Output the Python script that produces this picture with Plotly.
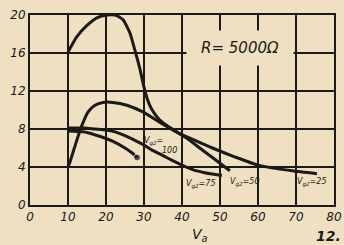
import plotly.graph_objects as go

# Anode voltage Va (x) vs gain (y), R = 5000 ohm, for several screen voltages Vg2
va_g2_50 = [10, 12.3, 15, 17.6, 20.3, 22.4, 24.5, 26.3, 27.6, 29, 30, 31, 32, 34, 37, 41, 45, 48, 52.6]
gain_g2_50 = [16.1, 17.7, 18.9, 19.7, 20, 20, 19.5, 18.1, 16.3, 14.2, 12.4, 11.0, 10.1, 9.0, 8.1, 7.1, 5.9, 5.0, 3.6]

va_g2_25 = [10, 10.5, 13.2, 15.3, 17.1, 19.2, 21.8, 25.5, 29.7, 34.2, 39, 44, 48, 54, 60, 69, 75.5]
gain_g2_25 = [4.0, 4.5, 7.9, 9.8, 10.5, 10.8, 10.8, 10.5, 9.8, 8.7, 7.6, 6.7, 6.0, 5.05, 4.2, 3.6, 3.3]

va_g2_75 = [10, 14.5, 17, 20, 22.4, 25, 27.6, 30, 32, 35, 37.4, 40, 43, 46, 50.5]
gain_g2_75 = [8.1, 8.1, 8.0, 7.9, 7.7, 7.3, 6.8, 6.3, 5.8, 5.2, 4.7, 4.2, 3.7, 3.4, 3.1]

va_g2_100 = [10, 14, 17, 20, 22.4, 25, 26.8, 28.2]
gain_g2_100 = [7.8, 7.7, 7.4, 7.0, 6.6, 6.0, 5.5, 5.0]

x_ticks = [0, 10, 20, 30, 40, 50, 60, 70, 80]
y_ticks = [0, 4, 8, 12, 16, 20]

BG = "#EFE0C2"
INK = "#1b1a17"
FONT = "DejaVu Sans"

fig = go.Figure()
for xs, ys in [(va_g2_50, gain_g2_50), (va_g2_25, gain_g2_25),
               (va_g2_75, gain_g2_75)]:
    fig.add_trace(go.Scatter(x=xs, y=ys, mode="lines",
                             line=dict(color=INK, width=3, shape="spline", smoothing=0.5),
                             hoverinfo="skip", showlegend=False))
fig.add_trace(go.Scatter(x=va_g2_100, y=gain_g2_100, mode="lines+markers",
                         line=dict(color=INK, width=3, shape="spline", smoothing=0.5),
                         marker=dict(color=INK, size=[0] * (len(va_g2_100) - 1) + [7]),
                         hoverinfo="skip", showlegend=False))

lab = dict(family=FONT, size=8, color=INK, style="italic")
fig.add_annotation(x=32.4, y=6.7, text="V<sub>g2</sub>=", showarrow=False, font=lab)
fig.add_annotation(x=36.8, y=5.7, text="100", showarrow=False, font=lab)
fig.add_annotation(x=45, y=2.2, text="V<sub>g2</sub>=75", showarrow=False, font=lab)
fig.add_annotation(x=56.6, y=2.4, text="V<sub>g2</sub>=50", showarrow=False, font=lab)
fig.add_annotation(x=74.2, y=2.4, text="V<sub>g2</sub>=25", showarrow=False, font=lab)

fig.add_annotation(x=55.3, y=16.5, text="R= 5000Ω", showarrow=False,
                   font=dict(family=FONT, size=15, color=INK, style="italic"),
                   bgcolor=BG, width=104, height=32)

fig.add_annotation(xref="paper", yref="paper", x=0.56, y=-0.1, text="V<sub>a</sub>",
                   showarrow=False, yanchor="top",
                   font=dict(family=FONT, size=14, color=INK, style="italic"))
fig.add_annotation(xref="paper", yref="paper", x=1.03, y=-0.11, text="<b>12.</b>",
                   showarrow=False, yanchor="top", xanchor="right",
                   font=dict(family=FONT, size=14, color=INK, style="italic"))

tick_font = dict(family=FONT, size=12, color=INK, style="italic")
fig.update_xaxes(range=[0, 80], tickvals=x_ticks, showgrid=True, gridcolor=INK, gridwidth=1.5,
                 showline=True, linecolor=INK, linewidth=2, mirror=True, ticks="",
                 zeroline=False, tickfont=tick_font, automargin=False)
fig.update_yaxes(range=[0, 20], tickvals=y_ticks, showgrid=True, gridcolor=INK, gridwidth=1.5,
                 showline=True, linecolor=INK, linewidth=2, mirror=True, ticks="",
                 zeroline=False, tickfont=tick_font, automargin=False)

fig.update_layout(width=344, height=245, margin=dict(l=30, r=10, t=15, b=40, autoexpand=False),
                  paper_bgcolor=BG, plot_bgcolor=BG)

fig.write_html("out.html", config={"displayModeBar": False},
               post_script="document.body.style.margin='0';"
                           "document.body.style.background='" + BG + "';")
